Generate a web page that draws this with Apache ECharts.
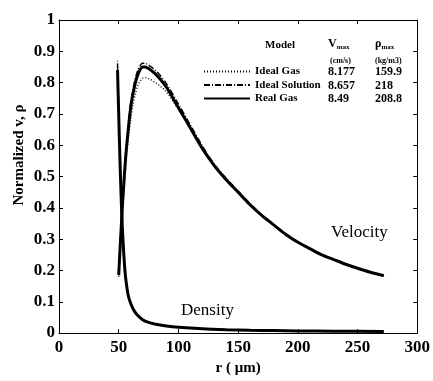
<!DOCTYPE html>
<html>
<head>
<meta charset="utf-8">
<script src="https://cdn.jsdelivr.net/npm/echarts@6/dist/echarts.min.js"></script>
<style>
  html, body { margin: 0; padding: 0; background: #fff; }
  #chart { width: 433px; height: 381px; }
</style>
</head>
<body>
<div id="chart"></div>
<script>
// ===== Data =====
const models = ['Ideal Gas', 'Ideal Solution', 'Real Gas'];
const vMaxText = ['8.177', '8.657', '8.49'];
const rhoMaxText = ['159.9', '218', '208.8'];

// velocity profiles (normalized), r in µm
const rVel = [50,51,52,53,54,56,58,60,62,64,66,68,70,72,75,80,85,90,100,110,120,130,140,150,160,170,180,190,200,210,220,230,240,250,260,272];
const velIdealGas = [.18,.25,.32,.385,.44,.54,.62,.68,.73,.765,.79,.805,.814,.816,.813,.802,.788,.77,.714,.654,.592,.535,.49,.45,.41,.375,.345,.315,.29,.27,.25,.235,.22,.207,.195,.183];
const velIdealSol = [.19,.27,.34,.41,.47,.58,.665,.735,.78,.815,.84,.855,.862,.862,.856,.842,.822,.797,.732,.665,.598,.54,.495,.454,.414,.378,.347,.317,.292,.271,.251,.236,.221,.208,.196,.184];
const velRealGas  = [.185,.26,.33,.40,.46,.57,.65,.72,.765,.80,.825,.842,.85,.85,.845,.83,.81,.785,.72,.655,.59,.535,.49,.45,.41,.375,.345,.315,.29,.27,.25,.235,.22,.207,.195,.183];

// density profiles (normalized)
const rDen = [49,50,51,52,53,54,55,56,58,60,62,65,70,75,80,90,100,120,140,160,180,200,230,272];
const denIdealGas = [.87,.72,.57,.45,.35,.275,.215,.172,.121,.096,.078,.06,.043,.034,.029,.023,.019,.014,.011,.009,.008,.007,.006,.005];
const denIdealSol = [.86,.71,.565,.445,.345,.272,.212,.171,.12,.095,.078,.06,.043,.034,.029,.023,.019,.014,.011,.009,.008,.007,.006,.005];
const denRealGas  = [.84,.70,.56,.44,.34,.27,.21,.17,.12,.095,.078,.06,.043,.034,.029,.023,.019,.014,.011,.009,.008,.007,.006,.005];

// ===== Styles =====
const INK = '#000';
const SERIF = '"Liberation Serif", "DejaVu Serif", serif';
const lineStyles = {
  'Ideal Gas':      { color: INK, width: 1.4, type: [1, 2] },
  'Ideal Solution': { color: INK, width: 1.4, type: [6, 2, 1, 2] },
  'Real Gas':       { color: INK, width: 3, type: 'solid' },
};

const pairs = (xs, ys) => xs.map((x, i) => [x, ys[i]]);

function series(name, xs, ys) {
  return {
    name, type: 'line', data: pairs(xs, ys),
    symbol: 'none', smooth: 0.3, silent: true,
    lineStyle: lineStyles[name], itemStyle: { color: INK },
    z: name === 'Real Gas' ? 3 : 4,
  };
}

function axisBase(show) {
  return {
    axisLine: { show: true, onZero: false, lineStyle: { color: INK, width: 1 } },
    axisTick: { show: true, inside: true, length: 4, lineStyle: { color: INK } },
    splitLine: { show: false },
    axisLabel: show
      ? { color: INK, fontFamily: SERIF, fontSize: 17, fontWeight: 'bold' }
      : { show: false },
  };
}

const chart = echarts.init(document.getElementById('chart'));
chart.setOption({
  animation: false,
  backgroundColor: '#fff',
  grid: { left: 59, right: 13, top: 20, bottom: 46 },
  xAxis: [
    { type: 'value', min: 0, max: 300, interval: 50, position: 'bottom', ...axisBase(true),
      axisLabel: { ...axisBase(true).axisLabel, margin: 6 },
      name: 'r ( μm)', nameLocation: 'middle', nameGap: 27,
      nameTextStyle: { color: INK, fontFamily: SERIF, fontSize: 15, fontWeight: 'bold' } },
    { type: 'value', min: 0, max: 300, interval: 50, position: 'top', ...axisBase(false) },
  ],
  yAxis: [
    { type: 'value', min: 0, max: 1, interval: 0.1, position: 'left', ...axisBase(true),
      axisLabel: { ...axisBase(true).axisLabel, margin: 4,
        formatter: v => String(Math.round(v * 10) / 10) } },
    { type: 'value', min: 0, max: 1, interval: 0.1, position: 'right', ...axisBase(false) },
  ],
  legend: {
    data: models, orient: 'vertical', left: 203, top: 66, padding: 0,
    itemWidth: 46, itemHeight: 12, itemGap: 2.5,
    itemStyle: { opacity: 0 },
    textStyle: { color: INK, fontFamily: SERIF, fontSize: 11, fontWeight: 'bold' },
    selectedMode: false,
  },
  graphic: [
    { type: 'text', left: 265, top: 40, style: { text: 'Model', font: 'bold 11px ' + SERIF, fill: INK } },
    { type: 'text', left: 328, top: 38, style: {
        text: '{a|V}{b|max}', rich: {
          a: { font: 'bold 12px ' + SERIF, fill: INK },
          b: { font: 'bold 7px ' + SERIF, fill: INK, padding: [6, 0, 0, 0] } } } },
    { type: 'text', left: 330, top: 57, style: { text: '(cm/s)', font: 'bold 8px ' + SERIF, fill: INK } },
    { type: 'text', left: 375, top: 38, style: {
        text: '{a|ρ}{b|max}', rich: {
          a: { font: 'bold 12px ' + SERIF, fill: INK },
          b: { font: 'bold 7px ' + SERIF, fill: INK, padding: [6, 0, 0, 0] } } } },
    { type: 'text', left: 375, top: 57, style: { text: '(kg/m3)', font: 'bold 8px ' + SERIF, fill: INK } },
    ...vMaxText.map((t, i) => ({ type: 'text', left: 328, top: 66 + i * 13.5,
      style: { text: t, font: 'bold 12px ' + SERIF, fill: INK } })),
    ...rhoMaxText.map((t, i) => ({ type: 'text', left: 375, top: 66 + i * 13.5,
      style: { text: t, font: 'bold 12px ' + SERIF, fill: INK } })),
    { type: 'text', left: 331, top: 224, style: { text: 'Velocity', font: '17px ' + SERIF, fill: INK } },
    { type: 'text', left: 181, top: 302, style: { text: 'Density', font: '17px ' + SERIF, fill: INK } },
    { type: 'text', x: 19, y: 155, rotation: Math.PI / 2,
      style: { text: 'Normalized v, ρ', font: 'bold 15px ' + SERIF, fill: INK,
        align: 'center', verticalAlign: 'middle' } },
  ],
  series: [
    series('Ideal Gas', rVel, velIdealGas),
    series('Ideal Solution', rVel, velIdealSol),
    series('Real Gas', rVel, velRealGas),
    series('Ideal Gas', rDen, denIdealGas),
    series('Ideal Solution', rDen, denIdealSol),
    series('Real Gas', rDen, denRealGas),
  ],
});
</script>
</body>
</html>
